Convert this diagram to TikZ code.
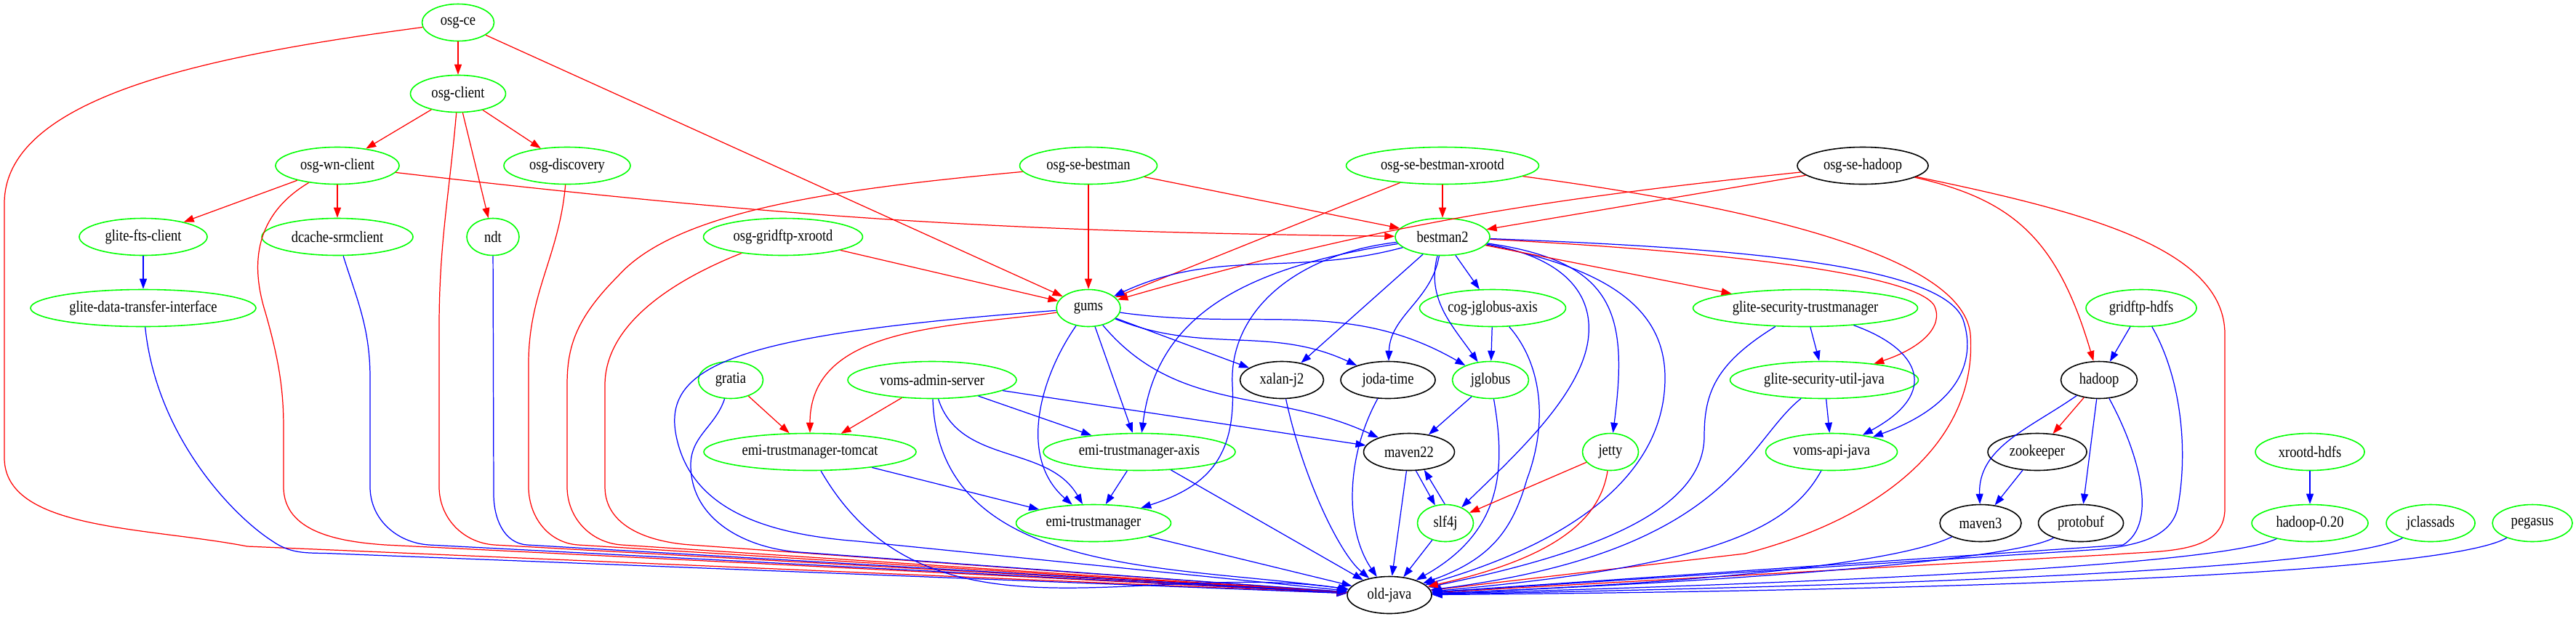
\documentclass[tikz,border=0pt]{standalone}
\usepackage{fontspec}
\setmainfont{Liberation Serif}[FakeStretch=0.85]
\usepackage{tikz}
\usetikzlibrary{shapes.geometric,arrows.meta}

\begin{document}
\begin{tikzpicture}[
  every node/.style={font=\fontsize{6.2}{7}\selectfont},
  pkg/.style={ellipse, draw=green, line width=0.45pt, minimum height=5.1mm,
              inner sep=0pt},
  opkg/.style={pkg, draw=black},   % packages from outside
  rdep/.style={-{Triangle[length=1.4mm,width=1mm]}, red, line width=0.35pt},
  bdep/.style={-{Triangle[length=1.4mm,width=1mm]}, blue, line width=0.35pt},
]
\useasboundingbox (0,0) rectangle (35.43,-8.51);

%% ── packages, one row per rank ─────────────────────────────────────
\node[pkg, minimum width=9.9mm]  (osgce)     at (6.30,-0.31) {osg-ce};

\node[pkg, minimum width=13.1mm] (osgclient) at (6.30,-1.29) {osg-client};

\node[pkg, minimum width=17mm]   (osgwn)     at (4.64,-2.28) {osg-wn-client};
\node[pkg, minimum width=17.4mm] (osgdisc)   at (7.80,-2.28) {osg-discovery};
\node[pkg, minimum width=18.9mm] (sebestman) at (14.97,-2.28) {osg-se-bestman};
\node[pkg, minimum width=26.5mm] (sebxrootd) at (19.84,-2.28) {osg-se-bestman-xrootd};
\node[opkg, minimum width=18mm]  (sehadoop)  at (25.62,-2.28) {osg-se-hadoop};

\node[pkg, minimum width=17.6mm] (ftsclient) at (1.97,-3.26) {glite-fts-client};
\node[pkg, minimum width=20.8mm] (dcache)    at (4.64,-3.26) {dcache-srmclient};
\node[pkg, minimum width=7.2mm]  (ndt)       at (6.78,-3.26) {ndt};
\node[pkg, minimum width=21.9mm] (gridxrootd) at (10.77,-3.26) {osg-gridftp-xrootd};
\node[pkg, minimum width=13mm]   (bestman)   at (19.84,-3.26) {bestman2};

\node[pkg, minimum width=31mm]   (gdti)      at (1.97,-4.24) {glite-data-transfer-interface};
\node[pkg, minimum width=8.8mm]  (gums)      at (14.97,-4.24) {gums};
\node[pkg, minimum width=20.1mm] (cogaxis)   at (20.53,-4.24) {cog-jglobus-axis};
\node[pkg, minimum width=30.9mm] (gstm)      at (24.83,-4.24) {glite-security-trustmanager};
\node[pkg, minimum width=15.2mm] (gridhdfs)  at (29.45,-4.24) {gridftp-hdfs};

\node[pkg, minimum width=8.9mm]  (gratia)    at (10.05,-5.23) {gratia};
\node[pkg, minimum width=23.2mm] (vomsadmin) at (12.82,-5.23) {voms-admin-server};
\node[opkg, minimum width=11.5mm] (xalan)    at (17.63,-5.23) {xalan-j2};
\node[opkg, minimum width=13mm]  (joda)      at (19.09,-5.23) {joda-time};
\node[pkg, minimum width=10.5mm] (jglobus)   at (20.50,-5.23) {jglobus};
\node[pkg, minimum width=25.9mm] (gsutil)    at (25.09,-5.23) {glite-security-util-java};
\node[opkg, minimum width=10.5mm] (hadoop)   at (28.87,-5.23) {hadoop};

\node[pkg, minimum width=29.2mm] (tomcat)    at (11.14,-6.22) {emi-trustmanager-tomcat};
\node[pkg, minimum width=26.4mm] (emiaxis)   at (15.67,-6.22) {emi-trustmanager-axis};
\node[opkg, minimum width=12.5mm] (maven22)  at (19.38,-6.22) {maven22};
\node[pkg, minimum width=7.7mm]  (jetty)     at (22.15,-6.22) {jetty};
\node[pkg, minimum width=18.1mm] (vomsapi)   at (25.19,-6.22) {voms-api-java};
\node[opkg, minimum width=13.6mm] (zookeeper) at (28.02,-6.22) {zookeeper};
\node[pkg, minimum width=15mm]   (xrootdhdfs) at (31.77,-6.22) {xrootd-hdfs};

\node[pkg, minimum width=21.3mm] (emitm)     at (15.04,-7.20) {emi-trustmanager};
\node[pkg, minimum width=7.7mm]  (slf4j)     at (19.88,-7.20) {slf4j};
\node[opkg, minimum width=11.2mm] (maven3)   at (27.24,-7.20) {maven3};
\node[opkg, minimum width=11.7mm] (protobuf) at (28.62,-7.20) {protobuf};
\node[pkg, minimum width=16mm]   (hadoop020) at (31.77,-7.20) {hadoop-0.20};
\node[pkg, minimum width=12.2mm] (jclassads) at (33.43,-7.20) {jclassads};
\node[pkg, minimum width=11mm]   (pegasus)   at (34.83,-7.20) {pegasus};

\node[opkg, minimum width=11.6mm] (oldjava)  at (19.11,-8.19) {old-java};

%% ── top of the tree ────────────────────────────────────────────────
\draw[rdep] (osgce) -- (osgclient);
\draw[rdep] (osgce) -- (gums);
\draw[rdep] (osgce) .. controls (3.0,-0.75) and (0.06,-1.3) .. (0.06,-2.8)
  -- (0.06,-6.3) .. controls (0.06,-7.3) and (2.0,-7.25) .. (3.4,-7.52) -- (oldjava);

\draw[rdep] (osgclient) -- (osgwn);
\draw[rdep] (osgclient) -- (osgdisc);
\draw[rdep] (osgclient) -- (ndt);
\draw[rdep] (osgclient) to[out=-95,in=90] (6.04,-4.5) -- (6.04,-6.7)
  to[out=-90,in=176] (6.8,-7.5) -- (oldjava);

\draw[rdep] (osgwn) -- (ftsclient);
\draw[rdep] (osgwn) -- (dcache);
\draw[rdep] (osgwn) to[bend right=3] (bestman);
\draw[rdep] (osgwn) .. controls (3.6,-2.9) and (3.4,-3.5) .. (3.65,-4.3)
  .. controls (3.85,-5.0) and (3.9,-5.4) .. (3.9,-5.9) -- (3.9,-6.7)
  to[out=-90,in=176] (5.3,-7.5) -- (oldjava);

\draw[rdep] (osgdisc) to[out=-95,in=90] (7.27,-5.0) -- (7.27,-6.7)
  to[out=-90,in=176] (7.95,-7.5) -- (oldjava);

%% ── left lanes ─────────────────────────────────────────────────────
\draw[bdep] (ftsclient) -- (gdti);
\draw[bdep] (gdti) .. controls (2.15,-6.0) and (3.2,-7.1) .. (3.75,-7.45)
  to[out=-35,in=177] (4.6,-7.62) -- (oldjava);
\draw[bdep] (dcache) .. controls (4.9,-4.1) and (5.09,-4.5) .. (5.09,-5.2)
  -- (5.09,-6.7) to[out=-90,in=176] (5.9,-7.5) -- (oldjava);
\draw[bdep] (ndt) -- (6.79,-6.8) to[out=-90,in=176] (7.25,-7.5) -- (oldjava);

%% ── storage elements ───────────────────────────────────────────────
\draw[rdep] (sebestman) -- (gums);
\draw[rdep] (sebestman) -- (bestman);
\draw[rdep] (sebestman) .. controls (11.5,-2.6) and (9.3,-2.9) .. (8.5,-3.8)
  .. controls (7.9,-4.4) and (7.8,-4.8) .. (7.8,-5.3) -- (7.8,-6.7)
  to[out=-90,in=176] (8.55,-7.5) -- (oldjava);

\draw[rdep] (gridxrootd) -- (gums);
\draw[rdep] (gridxrootd) .. controls (9.4,-3.8) and (8.32,-4.4) .. (8.32,-5.3)
  -- (8.32,-6.7) to[out=-90,in=176] (9.5,-7.5) -- (oldjava);

\draw[rdep] (sebxrootd) -- (bestman);
\draw[rdep] (sebxrootd) -- (gums);
\draw[rdep] (sebxrootd) .. controls (24.5,-2.9) and (27.0,-3.6) .. (27.1,-4.6)
  .. controls (27.2,-6.0) and (26.0,-7.1) .. (24.0,-7.62) -- (oldjava);

\draw[rdep] (sehadoop) -- (bestman);
\draw[rdep] (sehadoop) to[out=186,in=16] (gums);
\draw[rdep] (sehadoop) .. controls (27.7,-2.75) and (28.3,-3.3) .. (hadoop);
\draw[rdep] (sehadoop) .. controls (28.6,-2.9) and (30.6,-3.4) .. (30.6,-4.6)
  -- (30.6,-7.0) to[out=-90,in=5] (29.1,-7.63) -- (oldjava);

%% ── gums ───────────────────────────────────────────────────────────
\draw[bdep] (gums) -- (xalan);
\draw[bdep] (gums) to[out=-22,in=155] (joda);
\draw[bdep] (gums) to[out=-8,in=150] (jglobus);
\draw[bdep] (gums) to[out=-50,in=155] (maven22);
\draw[bdep] (gums) -- (emiaxis);
\draw[bdep] (gums) .. controls (14.3,-5.2) and (14.0,-6.3) .. (emitm);
\draw[rdep] (gums) to[out=188,in=90] (tomcat);
\draw[bdep] (gums) .. controls (10.2,-4.6) and (9.1,-5.0) .. (9.3,-6.0)
  .. controls (9.5,-7.0) and (10.5,-7.35) .. (11.8,-7.45) -- (oldjava);

\draw[rdep] (gratia) -- (tomcat);
\draw[bdep] (gratia) to[out=-108,in=90] (9.5,-6.4)
  to[out=-90,in=176] (11.0,-7.6) -- (oldjava);

\draw[rdep] (vomsadmin) -- (tomcat);
\draw[bdep] (vomsadmin) -- (emiaxis);
\draw[bdep] (vomsadmin) -- (maven22);
\draw[bdep] (vomsadmin) to[out=-72,in=120] (emitm);
\draw[bdep] (vomsadmin) to[out=-88,in=172] (oldjava);

\draw[bdep] (tomcat) -- (emitm);
\draw[bdep] (tomcat) to[out=-60,in=172] (oldjava);
\draw[bdep] (emiaxis) -- (emitm);
\draw[bdep] (emiaxis) -- (oldjava);
\draw[bdep] (emitm) -- (oldjava);

%% ── bestman2 ───────────────────────────────────────────────────────
\draw[bdep] (bestman) to[out=195,in=25] (gums);
\draw[bdep] (bestman) .. controls (17.0,-3.7) and (15.9,-4.4) .. (emiaxis);
\draw[bdep] (bestman) .. controls (17.8,-3.5) and (16.9,-4.3) .. (16.95,-5.3)
  .. controls (17.0,-6.3) and (16.6,-6.7) .. (emitm);
\draw[bdep] (bestman) -- (xalan);
\draw[bdep] (bestman) to[out=-100,in=88] (joda);
\draw[bdep] (bestman) to[out=-105,in=125] (jglobus);
\draw[bdep] (bestman) -- (cogaxis);
\draw[bdep] (bestman) .. controls (21.3,-3.5) and (21.9,-3.9) .. (21.85,-4.6)
  .. controls (21.8,-5.4) and (20.8,-6.3) .. (slf4j);
\draw[bdep] (bestman) .. controls (22.2,-3.6) and (22.4,-4.3) .. (jetty);
\draw[bdep] (bestman) .. controls (22.2,-3.7) and (22.9,-4.3) .. (22.9,-5.2)
  .. controls (22.9,-6.6) and (21.5,-7.5) .. (oldjava);
\draw[rdep] (bestman) -- (gstm);
\draw[rdep] (bestman) .. controls (23.5,-3.45) and (26.3,-3.75) .. (26.6,-4.2)
  .. controls (26.75,-4.5) and (26.4,-4.8) .. (gsutil);
\draw[bdep] (bestman) .. controls (23.5,-3.4) and (26.7,-3.6) .. (27.0,-4.4)
  .. controls (27.2,-5.0) and (26.9,-5.6) .. (vomsapi);

%% ── security libs ──────────────────────────────────────────────────
\draw[bdep] (gstm) -- (gsutil);
\draw[bdep] (gstm) .. controls (26.4,-4.8) and (26.7,-5.4) .. (vomsapi);
\draw[bdep] (gstm) .. controls (23.6,-5.0) and (23.44,-5.4) .. (23.44,-6.0)
  .. controls (23.44,-7.0) and (22,-7.6) .. (oldjava);
\draw[bdep] (gsutil) -- (vomsapi);
\draw[bdep] (gsutil) .. controls (24.0,-6.1) and (23.8,-7.6) .. (oldjava);
\draw[bdep] (vomsapi) .. controls (24.6,-7.3) and (23.5,-7.8) .. (oldjava);

%% ── jglobus, maven22, slf4j ────────────────────────────────────────
\draw[bdep] (cogaxis) -- (jglobus);
\draw[bdep] (cogaxis) .. controls (21.2,-5.0) and (21.3,-5.8) .. (21.0,-6.6)
  .. controls (20.8,-7.3) and (20.5,-7.7) .. (oldjava);
\draw[bdep] (jglobus) -- (maven22);
\draw[bdep] (jglobus) .. controls (20.7,-6.4) and (20.7,-7.3) .. (oldjava);
\draw[bdep] (xalan) .. controls (17.9,-6.5) and (18.4,-7.6) .. (oldjava);
\draw[bdep] (joda) .. controls (18.5,-6.3) and (18.5,-7.3) .. (oldjava);
\draw[bdep] (maven22.-70) -- (slf4j.120);
\draw[bdep] (slf4j.92) -- (maven22.-50);
\draw[bdep] (maven22) -- (oldjava);
\draw[bdep] (slf4j) -- (oldjava);
\draw[rdep] (jetty) -- (slf4j);
\draw[rdep] (jetty) .. controls (22.0,-7.2) and (21.3,-7.7) .. (oldjava);

%% ── hadoop side ────────────────────────────────────────────────────
\draw[bdep] (gridhdfs) -- (hadoop);
\draw[bdep] (gridhdfs) .. controls (30.0,-5.2) and (30.1,-6.2) .. (29.95,-7.0)
  .. controls (29.85,-7.4) and (29.4,-7.5) .. (28.9,-7.56) -- (oldjava);
\draw[rdep] (hadoop) -- (zookeeper);
\draw[bdep] (hadoop) to[out=-145,in=92] (maven3);
\draw[bdep] (hadoop) -- (protobuf);
\draw[bdep] (hadoop) .. controls (29.4,-6.2) and (29.7,-7.2) .. (29.2,-7.5) -- (oldjava);
\draw[bdep] (zookeeper) -- (maven3);
\draw[bdep] (maven3) .. controls (26.2,-7.7) and (24,-8.0) .. (oldjava);
\draw[bdep] (protobuf) .. controls (27.7,-7.7) and (24,-8.0) .. (oldjava);
\draw[bdep] (xrootdhdfs) -- (hadoop020);
\draw[bdep] (hadoop020) .. controls (30.6,-7.75) and (26,-8.0) .. (oldjava);
\draw[bdep] (jclassads) .. controls (32.3,-7.8) and (27,-8.05) .. (oldjava);
\draw[bdep] (pegasus) .. controls (33.7,-7.85) and (28,-8.12) .. (oldjava);

\end{tikzpicture}
\end{document}
